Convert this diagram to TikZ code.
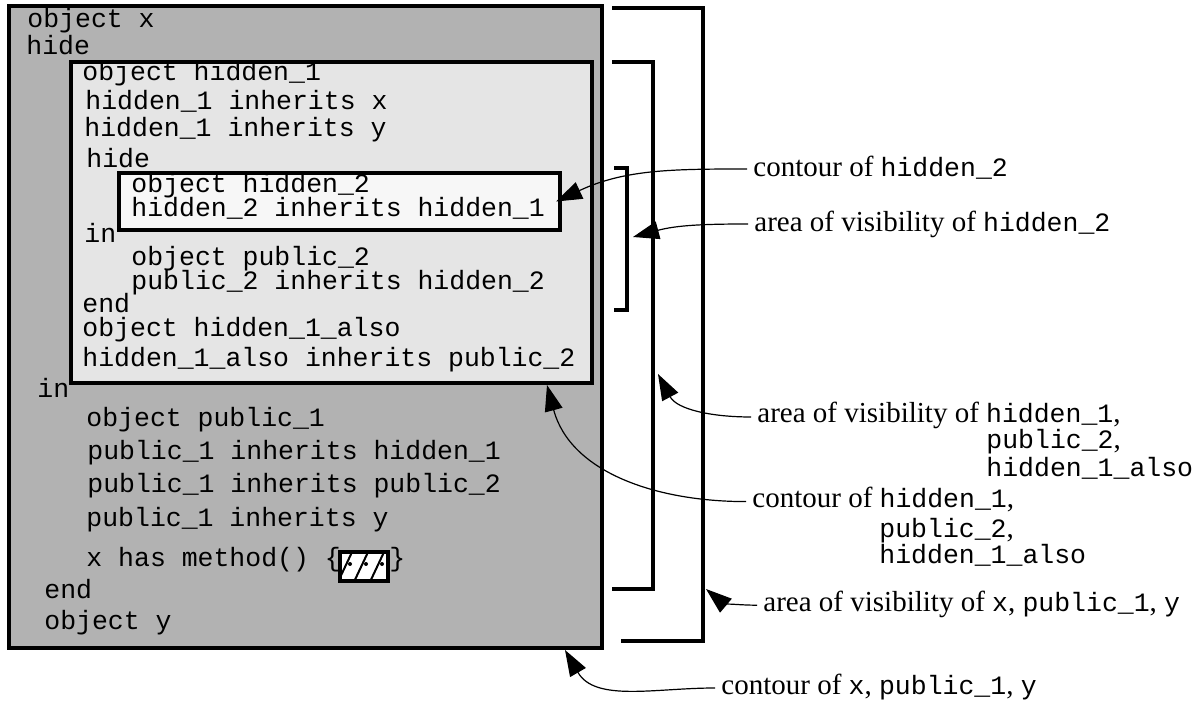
\documentclass[tikz,border=0pt]{standalone}
\usepackage{fontspec}
\setmainfont{Liberation Serif}
\setmonofont{Liberation Mono}
\usetikzlibrary{arrows.meta}
\definecolor{outergray}{HTML}{B2B2B2}
\definecolor{innergray}{HTML}{E5E5E5}
\definecolor{innermost}{HTML}{F7F7F7}
\newcommand\codeword[1]{{\ttfamily\fontsize{13.25}{15}\selectfont #1}}
\begin{document}
\begin{tikzpicture}[x=0.5pt,y=0.5pt,
  code/.style={font=\ttfamily\fontsize{13.25}{15}\selectfont, inner sep=0pt, anchor=base west},
  lbl/.style={font=\fontsize{14.5}{17}\selectfont, inner sep=0pt, anchor=base west},
  frame/.style={draw, line width=1.7pt, inner sep=0pt, outer sep=0pt, anchor=north west},
  bracket/.style={line width=1.6pt},
  pointer/.style={line width=0.6pt, -{Triangle[length=13pt,width=9pt]}},
]
\useasboundingbox (0,0) rectangle (1195,-704);

% nested scopes
\node[frame, fill=outergray, minimum width=296.5pt, minimum height=321pt] (outer) at (9,-6) {};
\node[frame, fill=innergray, minimum width=260.5pt, minimum height=160.5pt] (inner) at (71,-62) {};
\node[frame, fill=innermost, minimum width=220.5pt, minimum height=28.5pt] (h2) at (119,-173) {};

% program text
\node[code] (c1)  at (27,-28)  {object x};
\node[code] (c2)  at (26,-55)  {hide};
\node[code] (c3)  at (82,-81)  {object hidden\_1};
\node[code] (c4)  at (85,-110) {hidden\_1 inherits x};
\node[code] (c5)  at (84,-137) {hidden\_1 inherits y};
\node[code] (c6)  at (86,-168) {hide};
\node[code] (c7)  at (131,-193) {object hidden\_2};
\node[code] (c8)  at (131,-217) {hidden\_2 inherits hidden\_1};
\node[code] (c9)  at (84,-243) {in};
\node[code] (c10) at (131,-266) {object public\_2};
\node[code] (c11) at (131,-290) {public\_2 inherits hidden\_2};
\node[code] (c12) at (82,-313) {end};
\node[code] (c13) at (82,-337) {object hidden\_1\_also};
\node[code] (c14) at (82,-367) {hidden\_1\_also inherits public\_2};
\node[code] (c15) at (37,-398) {in};
\node[code] (c16) at (86,-427) {object public\_1};
\node[code] (c17) at (87,-460) {public\_1 inherits hidden\_1};
\node[code] (c18) at (87,-493) {public\_1 inherits public\_2};
\node[code] (c19) at (86,-527) {public\_1 inherits y};
\node[code] (c20) at (86,-567) {x has method() \{};
\node[code] (c21) at (389,-567) {\}};
\node[code] (c22) at (44,-599) {end};
\node[code] (c23) at (44,-630) {object y};

% method body placeholder: hatched box with dots
\node[frame, fill=white, minimum width=24pt, minimum height=14.5pt] (body) at (340,-552) {};
\begin{scope}
  \clip (body.south west) rectangle (body.north east);
  \foreach \bx in {337,353,369} {
    \draw[line width=1pt] (\bx,-584) -- (\bx+16,-550);
  }
  \foreach \dx in {350,366,382} {
    \fill (\dx,-564) circle (1pt);
  }
\end{scope}
\draw[line width=1.7pt] (body.south west) rectangle (body.north east);

% visibility brackets
\draw[bracket] (612,-8) -- (703,-8) -- (703,-641) -- (621,-641);
\draw[bracket] (612,-62) -- (653,-62) -- (653,-589) -- (612,-589);
\draw[bracket] (614,-168) -- (627,-168) -- (627,-310) -- (614,-310);

\coordinate (vis2) at (633,-237);
\coordinate (vis1) at (658,-374);
\coordinate (visx) at (706,-589);
\coordinate (tip1) at ([xshift=-22.5pt,yshift=-1pt]inner.south east);
\coordinate (tipx) at ([xshift=-18.5pt,yshift=-1pt]outer.south east);

% annotations
\node[lbl] (l1) at (753,-177) {contour of \codeword{hidden\_2}};
\node[lbl] (l2) at (754,-232) {area of visibility of \codeword{hidden\_2}};
\node[lbl] (l3) at (757,-423) {area of visibility of \codeword{hidden\_1},};
\node[lbl] (l3b) at (986,-449) {\codeword{public\_2},};
\node[lbl] (l3c) at (986,-477) {\codeword{hidden\_1\_also}};
\node[lbl] (l4) at (752,-508) {contour of \codeword{hidden\_1},};
\node[lbl] (l4b) at (879,-538) {\codeword{public\_2},};
\node[lbl] (l4c) at (879,-564) {\codeword{hidden\_1\_also}};
\node[lbl] (l5) at (763,-612) {area of visibility of \codeword{x}, \codeword{public\_1}, \codeword{y}};
\node[lbl] (l6) at (721,-695) {contour of \codeword{x}, \codeword{public\_1}, \codeword{y}};

\draw[pointer] ([xshift=-3pt,yshift=4pt]l1.base west) to[out=180,in=25] ([xshift=-2pt]h2.east);
\draw[pointer] ([xshift=-3pt,yshift=4pt]l2.base west) to[out=180,in=15] (vis2);
\draw[pointer] ([xshift=-3pt,yshift=3pt]l3.base west) to[out=180,in=-62] (vis1);
\draw[pointer] ([xshift=-3pt,yshift=3.2pt]l4.base west) to[out=180,in=-75] (tip1);
\draw[pointer] ([xshift=-3pt,yshift=3.4pt]l5.base west) to[out=180,in=-40] (visx);
\draw[pointer] ([xshift=-3pt,yshift=3.5pt]l6.base west) to[out=180,in=-60] (tipx);
\end{tikzpicture}
\end{document}
